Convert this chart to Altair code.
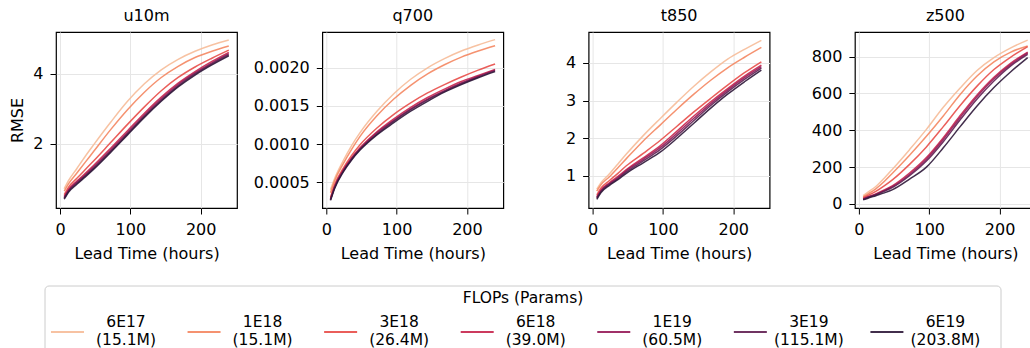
import altair as alt
import pandas as pd

hours = [6, 12, 24, 36, 48, 72, 96, 120, 144, 168, 192, 216, 240]
flops = ['6E17', '1E18', '3E18', '6E18', '1E19', '3E19', '6E19']
params = ['15.1M', '15.1M', '26.4M', '39.0M', '60.5M', '115.1M', '203.8M']
colors = ['#f6bb98', '#f48661', '#e84c48', '#c7254d', '#961a58', '#611e51', '#2e1738']
variables = ['u10m', 'q700', 't850', 'z500']

u10m = [
    [0.72, 0.95, 1.30, 1.65, 1.98, 2.62, 3.22, 3.72, 4.12, 4.42, 4.65, 4.83, 4.97],
    [0.65, 0.86, 1.17, 1.48, 1.79, 2.41, 2.98, 3.48, 3.90, 4.22, 4.47, 4.65, 4.80],
    [0.55, 0.76, 1.02, 1.27, 1.52, 2.04, 2.56, 3.06, 3.52, 3.90, 4.20, 4.45, 4.68],
    [0.50, 0.70, 0.94, 1.16, 1.39, 1.88, 2.38, 2.88, 3.34, 3.74, 4.07, 4.36, 4.62],
    [0.47, 0.67, 0.91, 1.12, 1.35, 1.83, 2.33, 2.83, 3.29, 3.70, 4.03, 4.32, 4.58],
    [0.45, 0.65, 0.88, 1.09, 1.31, 1.79, 2.29, 2.79, 3.25, 3.66, 4.00, 4.29, 4.55],
    [0.42, 0.62, 0.85, 1.06, 1.28, 1.76, 2.26, 2.76, 3.22, 3.63, 3.97, 4.26, 4.52],
]
q700 = [
    [0.00040, 0.00055, 0.00078, 0.00098, 0.00115, 0.00143, 0.00166, 0.00185, 0.00200, 0.00212, 0.00222, 0.00230, 0.00237],
    [0.00036, 0.00052, 0.00074, 0.00093, 0.00110, 0.00137, 0.00159, 0.00177, 0.00192, 0.00204, 0.00214, 0.00222, 0.00229],
    [0.00030, 0.00047, 0.00068, 0.00085, 0.00099, 0.00121, 0.00139, 0.00154, 0.00167, 0.00178, 0.00188, 0.00197, 0.00205],
    [0.00028, 0.00045, 0.00066, 0.00082, 0.00095, 0.00116, 0.00133, 0.00148, 0.00161, 0.00172, 0.00182, 0.00190, 0.00198],
    [0.00027, 0.00044, 0.00065, 0.00081, 0.00094, 0.00115, 0.00131, 0.00146, 0.00159, 0.00170, 0.00180, 0.00189, 0.00197],
    [0.00027, 0.00043, 0.00064, 0.00080, 0.00093, 0.00113, 0.00130, 0.00145, 0.00158, 0.00169, 0.00179, 0.00188, 0.00196],
    [0.00026, 0.00042, 0.00063, 0.00079, 0.00092, 0.00112, 0.00128, 0.00143, 0.00156, 0.00168, 0.00178, 0.00187, 0.00195],
]
t850 = [
    [0.65, 0.82, 1.06, 1.32, 1.58, 2.07, 2.52, 2.96, 3.38, 3.76, 4.10, 4.36, 4.60],
    [0.60, 0.77, 0.98, 1.22, 1.46, 1.93, 2.35, 2.77, 3.17, 3.54, 3.87, 4.15, 4.41],
    [0.50, 0.68, 0.88, 1.07, 1.27, 1.60, 1.94, 2.32, 2.70, 3.06, 3.41, 3.74, 4.03],
    [0.45, 0.63, 0.82, 0.99, 1.17, 1.48, 1.80, 2.19, 2.59, 2.97, 3.32, 3.65, 3.94],
    [0.43, 0.61, 0.80, 0.96, 1.14, 1.44, 1.75, 2.13, 2.53, 2.92, 3.28, 3.61, 3.90],
    [0.41, 0.59, 0.78, 0.93, 1.11, 1.40, 1.70, 2.07, 2.47, 2.87, 3.23, 3.56, 3.86],
    [0.38, 0.56, 0.75, 0.90, 1.07, 1.35, 1.63, 2.00, 2.40, 2.80, 3.17, 3.50, 3.81],
]
z500 = [
    [45, 62, 95, 140, 190, 295, 405, 525, 630, 725, 795, 848, 890],
    [38, 52, 82, 122, 168, 265, 368, 478, 595, 695, 772, 825, 858],
    [33, 45, 68, 98, 132, 215, 310, 420, 535, 640, 730, 798, 855],
    [28, 38, 55, 76, 100, 168, 252, 360, 480, 592, 688, 765, 825],
    [27, 36, 52, 72, 95, 160, 243, 350, 470, 583, 680, 758, 820],
    [25, 34, 50, 69, 90, 153, 233, 338, 457, 570, 668, 750, 812],
    [22, 30, 45, 60, 78, 135, 200, 305, 420, 532, 632, 718, 795],
]
tables = {'u10m': u10m, 'q700': q700, 't850': t850, 'z500': z500}

y_domains = {'u10m': [0.17, 5.2], 'q700': [0.00016, 0.00247], 't850': [0.15, 4.82], 'z500': [-22, 934]}
y_ticks = {'u10m': [2, 4], 'q700': [0.0005, 0.001, 0.0015, 0.002], 't850': [1, 2, 3, 4], 'z500': [0, 200, 400, 600, 800]}
y_formats = {'u10m': 'd', 'q700': '.4f', 't850': 'd', 'z500': 'd'}
x_ticks = [0, 100, 200]

FONT = 'DejaVu Sans'
FS = 16

color_scale = alt.Scale(domain=flops, range=colors)


def panel(var, first):
    rows = []
    for f, series in zip(flops, tables[var]):
        for h, v in zip(hours, series):
            rows.append({'hour': h, 'rmse': v, 'flops': f})
    d = pd.DataFrame(rows)
    if first:
        yaxis = alt.Axis(values=y_ticks[var], format=y_formats[var], title='RMSE',
                         minExtent=22, maxExtent=22, titlePadding=9)
    else:
        yaxis = alt.Axis(values=y_ticks[var], format=y_formats[var], title=None,
                         minExtent=72, maxExtent=72)
    return alt.Chart(d).mark_line(strokeWidth=1.5, opacity=0.9, interpolate='monotone').encode(
        x=alt.X('hour:Q', scale=alt.Scale(domain=[-5.7, 251.7], nice=False, zero=False),
                axis=alt.Axis(values=x_ticks, title='Lead Time (hours)', minExtent=30,
                              maxExtent=30, titlePadding=7)),
        y=alt.Y('rmse:Q', scale=alt.Scale(domain=y_domains[var], nice=False, zero=False), axis=yaxis),
        color=alt.Color('flops:N', sort=flops, scale=color_scale, legend=None),
    ).properties(
        width=181, height=176,
        title=alt.TitleParams(var, fontSize=FS, fontWeight='normal', font=FONT, offset=8,
                              anchor='middle', color='black'),
    )


panels = alt.hconcat(*[panel(v, i == 0) for i, v in enumerate(variables)], spacing=11.3)

# legend (its own small view; the box starts 11px left of the first panel)
leg_df = pd.DataFrame({'flops': flops, 'label': [f'{f}\n({p})' for f, p in zip(flops, params)]})
xenc = alt.X('flops:N', sort=flops,
             scale=alt.Scale(type='point', domain=flops, padding=0.5, range=[-11, 945]), axis=None)

box = alt.Chart(pd.DataFrame({'frame': ['legend']})).mark_rect(
    fillOpacity=0, stroke='#cccccc', strokeWidth=1, cornerRadius=4, clip=False,
).encode(x=alt.value(-11), x2=alt.value(945), y=alt.value(0), y2=alt.value(76))
swatches = alt.Chart(leg_df).mark_tick(orient='horizontal', size=33, thickness=2, xOffset=-45.8,
                                        opacity=0.9).encode(
    x=xenc, y=alt.value(46),
    color=alt.Color('flops:N', sort=flops, scale=color_scale, legend=None),
)
labels = alt.Chart(leg_df).mark_text(dx=12.7, align='center', baseline='middle', lineBreak='\n',
                                     fontSize=15.5, lineHeight=18, font=FONT, color='black').encode(
    x=xenc, y=alt.value(36), text='label:N',
)
legend = alt.layer(box, swatches, labels).properties(
    width=934, height=76,
    title=alt.TitleParams('FLOPs (Params)', offset=-21, fontSize=15.5, fontWeight='normal', font=FONT,
                          anchor='middle', color='black'),
    view=alt.ViewBackground(stroke='transparent'),
)

chart = alt.vconcat(panels, legend, spacing=22).properties(
    padding={'left': 8, 'top': 7, 'right': -7, 'bottom': -11},
    background='white',
).configure_view(
    stroke='black', strokeWidth=1.2,
).configure_axis(
    domain=False, tickColor='black', tickSize=6, tickWidth=1, labelPadding=7,
    labelFont=FONT, labelFontSize=FS, labelColor='black',
    titleFont=FONT, titleFontSize=FS, titleFontWeight='normal', titleColor='black',
    gridColor='#e6e6e6', gridWidth=1,
).configure_title(font=FONT, fontSize=FS, fontWeight='normal', color='black')

chart.save('out.html', embed_options={'renderer': 'svg', 'actions': False})
